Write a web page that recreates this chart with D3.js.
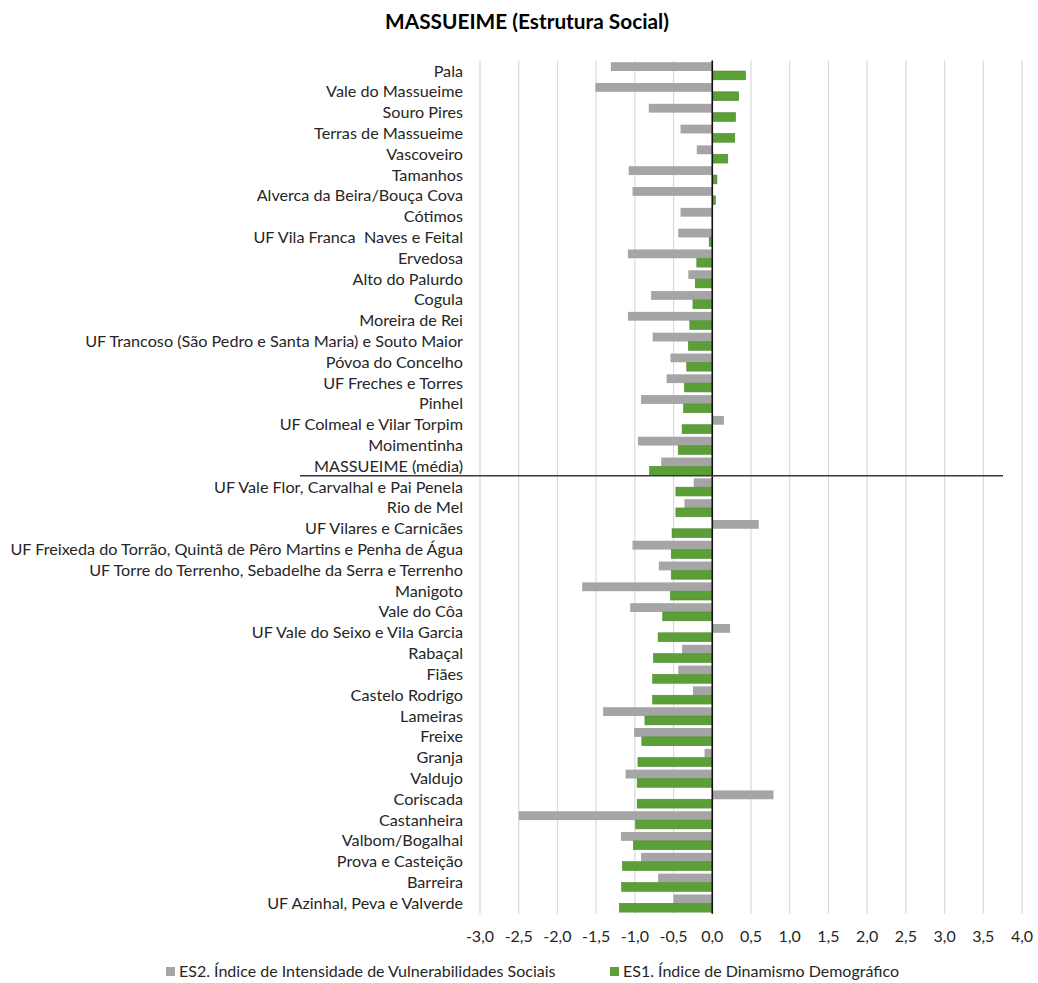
<!DOCTYPE html>
<html>
<head>
<meta charset="utf-8">
<script src="https://cdn.jsdelivr.net/npm/d3@7"></script>
<style>
  body { margin: 0; background: #fff; }
  svg { display: block; }
  text { font-family: Lato, "Liberation Sans", Arial, sans-serif; fill: #262626; white-space: pre; }
</style>
</head>
<body>
<svg id="chart" width="1038" height="983"></svg>
<script>
// Freguesias, from top to bottom
const categories = [
  "Pala", "Vale do Massueime", "Souro Pires", "Terras de Massueime", "Vascoveiro",
  "Tamanhos", "Alverca da Beira/Bouça Cova", "Cótimos", "UF Vila Franca  Naves e Feital",
  "Ervedosa", "Alto do Palurdo", "Cogula", "Moreira de Rei",
  "UF Trancoso (São Pedro e Santa Maria) e Souto Maior", "Póvoa do Concelho",
  "UF Freches e Torres", "Pinhel", "UF Colmeal e Vilar Torpim", "Moimentinha",
  "MASSUEIME (média)", "UF Vale Flor, Carvalhal e Pai Penela", "Rio de Mel",
  "UF Vilares e Carnicães",
  "UF Freixeda do Torrão, Quintã de Pêro Martins e Penha de Água",
  "UF Torre do Terrenho, Sebadelhe da Serra e Terrenho", "Manigoto", "Vale do Côa",
  "UF Vale do Seixo e Vila Garcia", "Rabaçal", "Fiães", "Castelo Rodrigo", "Lameiras",
  "Freixe", "Granja", "Valdujo", "Coriscada", "Castanheira", "Valbom/Bogalhal",
  "Prova e Casteição", "Barreira", "UF Azinhal, Peva e Valverde"
];

// ES2. Índice de Intensidade de Vulnerabilidades Sociais
const es2 = [
  -1.31, -1.51, -0.82, -0.41, -0.20, -1.08, -1.03, -0.41, -0.44, -1.09,
  -0.31, -0.79, -1.09, -0.77, -0.54, -0.59, -0.92, 0.15, -0.96, -0.66,
  -0.24, -0.36, 0.60, -1.03, -0.69, -1.68, -1.06, 0.23, -0.39, -0.44,
  -0.25, -1.41, -1.01, -0.10, -1.12, 0.79, -2.50, -1.18, -0.92, -0.70, -0.50
];

// ES1. Índice de Dinamismo Demográfico
const es1 = [
  0.43, 0.34, 0.30, 0.29, 0.20, 0.06, 0.04, 0.005, -0.04, -0.20,
  -0.22, -0.25, -0.29, -0.31, -0.33, -0.36, -0.37, -0.39, -0.44, -0.81,
  -0.47, -0.47, -0.52, -0.53, -0.53, -0.54, -0.64, -0.70, -0.76, -0.77,
  -0.77, -0.87, -0.91, -0.96, -0.97, -0.97, -0.99, -1.02, -1.16, -1.17, -1.20
];

const xTicks = [-3, -2.5, -2, -1.5, -1, -0.5, 0, 0.5, 1, 1.5, 2, 2.5, 3, 3.5, 4];
const seriesNames = [
  "ES2. Índice de Intensidade de Vulnerabilidades Sociais",
  "ES1. Índice de Dinamismo Demográfico"
];
const averageLabel = "MASSUEIME (média)";
const title = "MASSUEIME (Estrutura Social)";

const colors = { es2: "#a5a5a5", es1: "#5c9e37", es1Stroke: "#4d8c2c" };

const svg = d3.select("#chart");
const plot = { left: 480, right: 1022, top: 60.6, bottom: 913.7 };

const x = d3.scaleLinear().domain([-3, 4]).range([plot.left, plot.right]);
const y = d3.scaleBand().domain(categories).range([plot.top, plot.bottom]).paddingInner(0).paddingOuter(0);
const inner = d3.scaleBand().domain(["es2", "es1"]).range([0, y.bandwidth()]).paddingInner(0).paddingOuter(0.18);

// Title
svg.append("text")
  .attr("x", 527).attr("y", 29)
  .attr("text-anchor", "middle")
  .style("font-size", "20.8px").style("font-weight", "bold")
  .style("fill", "#000")
  .text(title);

// Vertical gridlines
svg.append("g").selectAll("line").data(xTicks).join("line")
  .attr("x1", d => x(d)).attr("x2", d => x(d))
  .attr("y1", plot.top).attr("y2", plot.bottom)
  .attr("stroke", "#d9d9de").attr("stroke-width", 1.2);

// Bars
const rows = categories.map((c, i) => ({ c, es2: es2[i], es1: es1[i] }));
const g = svg.append("g");
g.selectAll("rect.es2").data(rows).join("rect").attr("class", "es2")
  .attr("x", d => x(Math.min(0, d.es2)))
  .attr("width", d => Math.abs(x(d.es2) - x(0)))
  .attr("y", d => y(d.c) + inner("es2"))
  .attr("height", inner.bandwidth())
  .attr("fill", colors.es2);
g.selectAll("rect.es1").data(rows).join("rect").attr("class", "es1")
  .attr("x", d => x(Math.min(0, d.es1)))
  .attr("width", d => Math.abs(x(d.es1) - x(0)))
  .attr("y", d => y(d.c) + inner("es1"))
  .attr("height", inner.bandwidth())
  .attr("fill", colors.es1)
  .attr("stroke", colors.es1Stroke).attr("stroke-width", 0.6);

// Zero axis
svg.append("line")
  .attr("x1", x(0)).attr("x2", x(0))
  .attr("y1", plot.top).attr("y2", plot.bottom)
  .attr("stroke", "#111").attr("stroke-width", 1.6);

// Category labels
svg.append("g").selectAll("text").data(categories).join("text")
  .attr("x", 463)
  .attr("y", d => y(d) + y.bandwidth() / 2 + 5.5)
  .attr("text-anchor", "end")
  .style("font-size", "16.2px")
  .text(d => d);

// Separator under the average row
const sepY = y(averageLabel) + y.bandwidth() - 1;
svg.append("line")
  .attr("x1", 300).attr("x2", 1003)
  .attr("y1", sepY).attr("y2", sepY)
  .attr("stroke", "#3a3a3a").attr("stroke-width", 1.3);

// X axis tick labels
const fmt = v => d3.format(".1f")(v).replace(".", ",").replace("−", "-");
svg.append("g").selectAll("text").data(xTicks).join("text")
  .attr("x", d => x(d))
  .attr("y", 942)
  .attr("text-anchor", "middle")
  .style("font-size", "16px")
  .text(d => fmt(d));

// Legend
const legend = [
  { name: seriesNames[0], color: colors.es2, x: 166 },
  { name: seriesNames[1], color: colors.es1, x: 610 }
];
const lg = svg.append("g").selectAll("g").data(legend).join("g")
  .attr("transform", d => `translate(${d.x},972)`);
lg.append("rect").attr("x", 0).attr("y", -5).attr("width", 9).attr("height", 9)
  .attr("fill", d => d.color);
lg.append("text").attr("x", 13).attr("y", 5)
  .style("font-size", "16px")
  .text(d => d.name);
</script>
</body>
</html>
